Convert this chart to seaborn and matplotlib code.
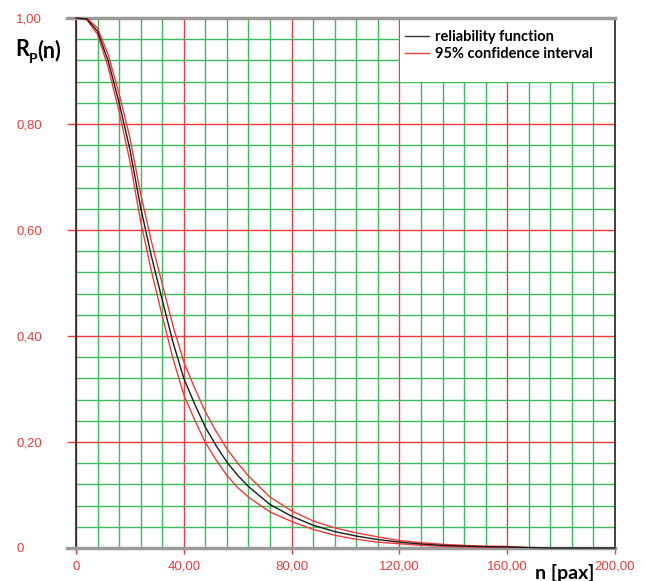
import matplotlib
matplotlib.use('Agg')
import matplotlib.pyplot as plt
import seaborn as sns
from matplotlib.lines import Line2D
from matplotlib.patches import Rectangle
from matplotlib.ticker import MultipleLocator, FixedLocator, FuncFormatter
from matplotlib.font_manager import FontProperties

# values
n_rel = [0, 4, 8, 12, 16, 20, 24, 28, 32, 36, 40, 44, 48, 52, 56, 60, 64, 72, 80,
         88, 96, 104, 112, 120, 128, 136, 144, 152, 160, 168, 176, 200]
r_rel = [1.0, 0.998, 0.975, 0.918, 0.840, 0.752, 0.642, 0.550, 0.468, 0.388, 0.320,
         0.272, 0.228, 0.193, 0.162, 0.137, 0.116, 0.082, 0.060, 0.043, 0.031, 0.0225,
         0.016, 0.011, 0.0076, 0.005, 0.0035, 0.0025, 0.002, 0.001, 0.0, 0.0]

n_ci = [0, 4, 8, 12, 16, 20, 24, 28, 32, 36, 40, 44, 48, 52, 56, 60, 64, 72, 80,
        88, 96, 104, 112, 120, 128, 136, 144, 152, 160, 166]
ci_upper = [1.0, 1.0, 0.981, 0.930, 0.857, 0.774, 0.668, 0.578, 0.498, 0.419, 0.351,
            0.302, 0.257, 0.220, 0.187, 0.160, 0.136, 0.096, 0.070, 0.051, 0.038, 0.0285,
            0.021, 0.014, 0.0101, 0.007, 0.005, 0.0035, 0.003, 0.001]
ci_lower = [1.0, 0.997, 0.969, 0.906, 0.823, 0.730, 0.616, 0.522, 0.438, 0.357, 0.289,
            0.242, 0.199, 0.166, 0.137, 0.114, 0.096, 0.068, 0.050, 0.035, 0.024, 0.0165,
            0.011, 0.008, 0.0051, 0.003, 0.002, 0.0015, 0.001, 0.001]

x_major = [0, 40, 80, 120, 160, 200]
y_major = [0, 0.2, 0.4, 0.6, 0.8, 1.0]
legend_labels = ['reliability function', '95% confidence interval']

RED = '#f23a3a'
GREEN = '#3cba5c'
GRAY = '#9a9a9a'

plt.rcParams['font.family'] = ['Liberation Sans', 'DejaVu Sans']

fig = plt.figure(figsize=(6.46, 5.81), dpi=100)
ax = fig.add_axes([76 / 646, 1 - 548 / 581, 539 / 646, 530 / 581])
ax.set_axisbelow(True)

sns.lineplot(x=n_ci, y=ci_upper, color=RED, lw=1, ax=ax, estimator=None, zorder=3)
sns.lineplot(x=n_ci, y=ci_lower, color=RED, lw=1, ax=ax, estimator=None, zorder=3)
sns.lineplot(x=n_rel, y=r_rel, color='#1a1a1a', lw=1, ax=ax, estimator=None,
             zorder=4, clip_on=False)

ax.set_xlim(0, 200)
ax.set_ylim(0, 1)
ax.xaxis.set_major_locator(FixedLocator(x_major))
ax.xaxis.set_minor_locator(MultipleLocator(8))
ax.yaxis.set_major_locator(FixedLocator(y_major))
ax.yaxis.set_minor_locator(MultipleLocator(0.04))


def fmt(v, pos):
    return '0' if abs(v) < 1e-9 else f'{v:.2f}'.replace('.', ',')


ax.xaxis.set_major_formatter(FuncFormatter(fmt))
ax.yaxis.set_major_formatter(FuncFormatter(fmt))

ax.grid(which='minor', color=GREEN, lw=1)
ax.grid(which='major', color=RED, lw=1)
ax.tick_params(which='minor', length=0)
ax.tick_params(axis='y', which='major', length=6.5, width=1, color=RED,
               pad=36.5, labelcolor=RED, labelsize=9.5)
ax.tick_params(axis='x', which='major', length=4.5, width=1, color=RED,
               pad=4.5, labelcolor=RED, labelsize=9.5)
for t in ax.yaxis.get_major_ticks():
    t.label1.set_horizontalalignment('left')
xt = ax.xaxis.get_major_ticks()
xt[0].tick1line.set_color('black')
xt[-1].tick1line.set_color('black')
ax.set_xlabel('')
ax.set_ylabel('')

for side in ['left', 'right']:
    ax.spines[side].set_color('#222222')
    ax.spines[side].set_linewidth(1.2)
for side in ['top', 'bottom']:
    ax.spines[side].set_color(GRAY)
    ax.spines[side].set_linewidth(2.5)
    ax.spines[side].set_bounds(-3.34, 200)

ax.add_patch(Rectangle((0.602, 0.879), 0.398, 0.121, transform=ax.transAxes,
                       facecolor='white', edgecolor='none', zorder=1))

handles = [Line2D([], [], color='#333333', lw=1), Line2D([], [], color=RED, lw=1)]
ax.legend(handles, legend_labels, loc='upper left', bbox_to_anchor=(0.610, 0.9775),
          frameon=False, prop=FontProperties(family='Lato', weight='bold', size=10.5),
          handlelength=1.65, handletextpad=0.45, labelspacing=0.2,
          borderpad=0, borderaxespad=0)

bold = dict(family='Lato', weight='bold', color='black')
fig.text(15 / 646, 1 - 56 / 581, 'R', fontsize=15.5, va='baseline', ha='left', **bold)
fig.text(28.5 / 646, 1 - 63 / 581, 'P', fontsize=10, va='baseline', ha='left', **bold)
fig.text(37 / 646, 1 - 57 / 581, '(n)', fontsize=15.5, va='baseline', ha='left', **bold)
fig.text(565 / 646, 1 - 564 / 581, 'n [pax]', fontsize=14, va='top', ha='center', **bold)

fig.savefig('out.png', dpi=100)
